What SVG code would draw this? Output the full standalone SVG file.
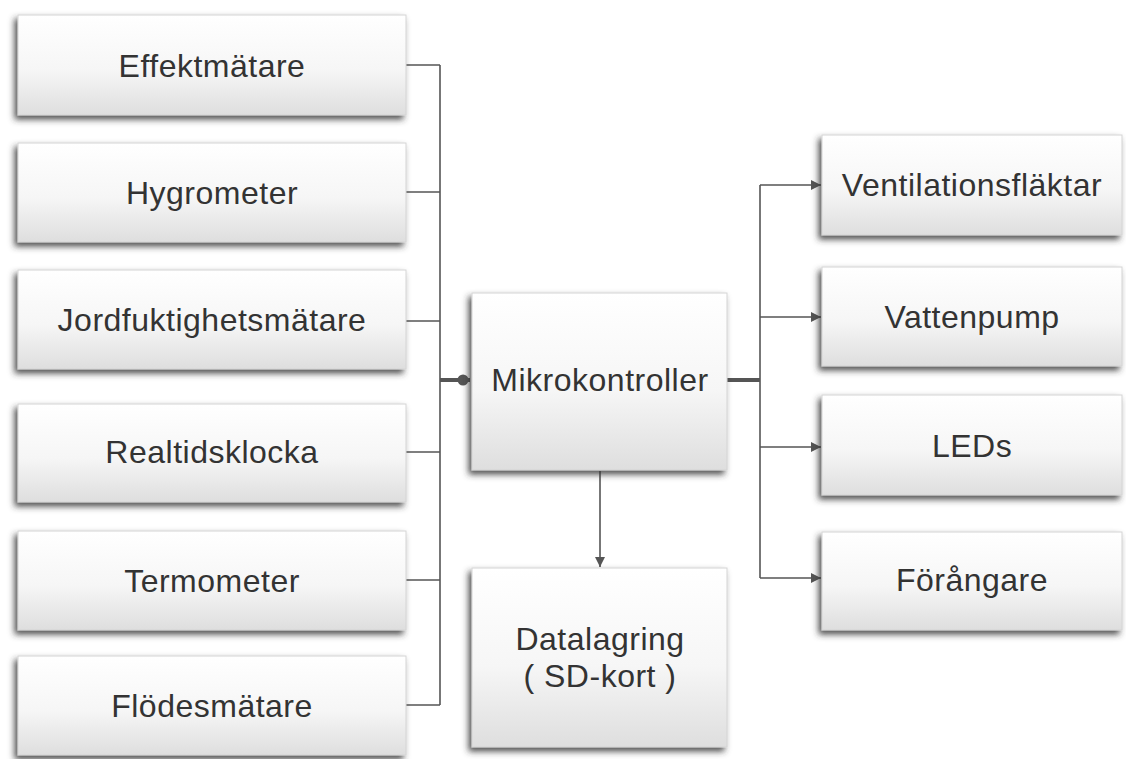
<svg xmlns="http://www.w3.org/2000/svg" width="1126" height="759" viewBox="0 0 1126 759">
<defs>
<linearGradient id="g" x1="0" y1="0" x2="0" y2="1">
<stop offset="0" stop-color="#ffffff"/>
<stop offset="0.55" stop-color="#f6f6f6"/>
<stop offset="1" stop-color="#dedede"/>
</linearGradient>
<filter id="sh" x="-10%" y="-10%" width="120%" height="130%">
<feDropShadow dx="-3" dy="4" stdDeviation="3" flood-color="#333" flood-opacity="0.85"/>
</filter>
<marker id="arr" viewBox="0 0 10 10" refX="10" refY="5" markerWidth="10" markerHeight="10" markerUnits="userSpaceOnUse" orient="auto">
<path d="M0,0 L10,5 L0,10 z" fill="#555"/>
</marker>
</defs>
<style>
.box{fill:url(#g);stroke:#d4d4d4;stroke-width:1;filter:url(#sh)}
.t{font-family:"Liberation Sans",Arial,sans-serif;font-size:32px;letter-spacing:0.5px;fill:#333;text-anchor:middle}
.c{fill:none;stroke:#555;stroke-width:1.6}
.k{fill:none;stroke:#555;stroke-width:4}
</style>
<rect width="1126" height="759" fill="#ffffff"/>
<g id="connectors">
<path class="c" d="M406,65 H440 M406,192 H440 M406,321 H440 M406,452 H440 M406,580 H440 M406,705 H440 M440,65 V705"/>
<path class="k" d="M440,380 H470"/>
<circle cx="463" cy="380" r="5.5" fill="#555"/>
<path class="k" d="M727,380 H760"/>
<path class="c" d="M760,185 V578"/>
<path class="c" d="M760,185 H821" marker-end="url(#arr)"/>
<path class="c" d="M760,317 H821" marker-end="url(#arr)"/>
<path class="c" d="M760,447 H821" marker-end="url(#arr)"/>
<path class="c" d="M760,578 H821" marker-end="url(#arr)"/>
<path class="c" d="M600,471 V567" marker-end="url(#arr)"/>
</g>
<g id="effektmatare"><rect class="box" x="18" y="15" width="388" height="100"/><text class="t" x="212" y="77">Effektmätare</text></g>
<g id="hygrometer"><rect class="box" x="18" y="143" width="388" height="99"/><text class="t" x="212" y="204">Hygrometer</text></g>
<g id="jordfuktighetsmatare"><rect class="box" x="18" y="270" width="388" height="99"/><text class="t" x="212" y="331">Jordfuktighetsmätare</text></g>
<g id="realtidsklocka"><rect class="box" x="18" y="404" width="388" height="98"/><text class="t" x="212" y="463">Realtidsklocka</text></g>
<g id="termometer"><rect class="box" x="18" y="531" width="388" height="99"/><text class="t" x="212" y="592">Termometer</text></g>
<g id="flodesmatare"><rect class="box" x="18" y="656" width="388" height="99"/><text class="t" x="212" y="717">Flödesmätare</text></g>
<g id="mikrokontroller"><rect class="box" x="472" y="293" width="255" height="177"/><text class="t" x="600" y="391">Mikrokontroller</text></g>
<g id="datalagring"><rect class="box" x="472" y="568" width="255" height="179"/><text class="t" x="600" y="650">Datalagring</text><text class="t" x="600" y="687">( SD-kort )</text></g>
<g id="ventilationsflaktar"><rect class="box" x="822" y="135" width="300" height="100"/><text class="t" x="972" y="196">Ventilationsfläktar</text></g>
<g id="vattenpump"><rect class="box" x="822" y="267" width="300" height="99"/><text class="t" x="972" y="328">Vattenpump</text></g>
<g id="leds"><rect class="box" x="822" y="395" width="300" height="100"/><text class="t" x="972" y="457">LEDs</text></g>
<g id="forangare"><rect class="box" x="822" y="532" width="300" height="98"/><text class="t" x="972" y="591">Förångare</text></g>
</svg>
